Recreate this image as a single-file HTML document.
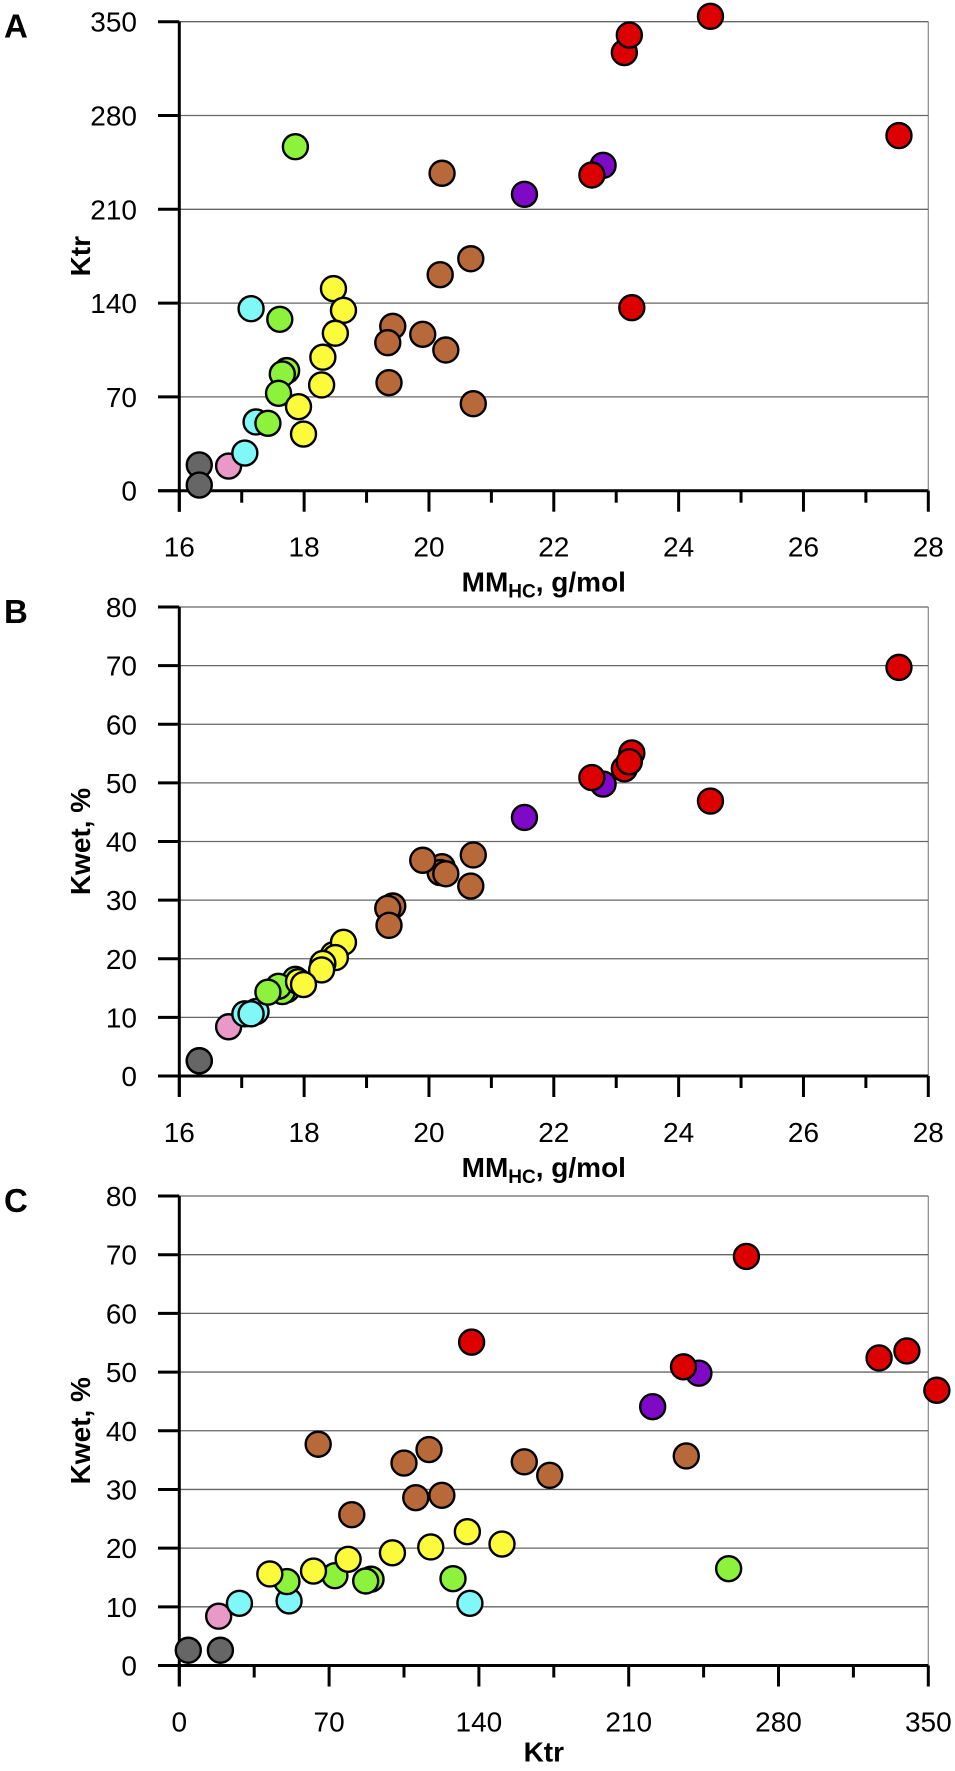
<!DOCTYPE html>
<html><head><meta charset="utf-8"><style>
body{margin:0;background:#fff;}
svg{display:block;font-family:"Liberation Sans",Arial,sans-serif;}
</style></head><body>
<svg id="fig" width="955" height="1771" viewBox="0 0 955 1771" xmlns="http://www.w3.org/2000/svg"></svg>
<script>
// sample data (one entry per sample)
const groups = ["gray","gray","pink","cyan","cyan","cyan","green","green","green","green","green","green","yellow","yellow","yellow","yellow","yellow","yellow","yellow","brown","brown","brown","brown","brown","brown","brown","brown","brown","purple","purple","red","red","red","red","red","red"];
const mmValues = [16.32,16.32,16.79,17.05,17.23,17.15,17.86,17.61,17.72,17.65,17.59,17.42,18.47,18.63,18.50,18.30,18.28,17.91,17.99,20.21,20.67,20.18,19.42,19.90,19.34,20.27,19.36,20.71,22.79,21.53,23.25,27.53,23.13,23.21,24.51,22.61];
const ktrValues = [19.2,4.2,18.4,28.1,51.3,135.8,256.7,127.9,89.6,87.1,72.7,50.3,150.8,134.6,117.5,99.6,78.9,62.7,42.3,236.9,173.1,161.2,122.7,116.7,110.5,105.0,80.6,64.9,242.8,221.2,136.6,265.0,327.0,340.0,354.0,235.6];
const kwetValues = [2.6,2.6,8.4,10.6,11.0,10.6,16.5,14.8,14.7,14.4,15.3,14.3,20.7,22.8,20.2,19.2,18.1,16.1,15.6,35.7,32.4,34.7,29.0,36.8,28.6,34.5,25.7,37.7,49.8,44.1,55.1,69.7,52.4,53.6,46.9,50.9];
const colorMap = {gray:"#666666",pink:"#e899c8",cyan:"#80f8f8",green:"#8cf23c",yellow:"#fbfb3c",brown:"#b8693a",purple:"#7e0ac8",red:"#dd0000"};
const mmTicks = [16,18,20,22,24,26,28];
const ktrTicks = [0,70,140,210,280,350];
const kwetTicks = [0,10,20,30,40,50,60,70,80];

const NS="http://www.w3.org/2000/svg";
const svg=document.getElementById('fig');
function el(tag,attrs,parent){const e=document.createElementNS(NS,tag);for(const k in attrs)e.setAttribute(k,attrs[k]);(parent||svg).appendChild(e);return e;}

const X0=179.3, X1=928.3;
const panels=[
 {key:"a",letter:"A",top:21.7,bottom:490.7,xv:mmValues,yv:ktrValues,xmin:16,xmax:28,xticks:mmTicks,xminor:1,ymin:0,ymax:350,yticks:ktrTicks,ytitle:"Ktr",xtitle:"mm"},
 {key:"b",letter:"B",top:607,bottom:1076,xv:mmValues,yv:kwetValues,xmin:16,xmax:28,xticks:mmTicks,xminor:1,ymin:0,ymax:80,yticks:kwetTicks,ytitle:"Kwet, %",xtitle:"mm"},
 {key:"c",letter:"C",top:1196,bottom:1665.5,xv:ktrValues,yv:kwetValues,xmin:0,xmax:350,xticks:ktrTicks,xminor:35,ymin:0,ymax:80,yticks:kwetTicks,ytitle:"Kwet, %",xtitle:"ktr"}
];

panels.forEach(p=>{
  const g=el('g',{});
  
  
  const sx=v=>X0+(v-p.xmin)/(p.xmax-p.xmin)*(X1-X0);
  const sy=v=>p.bottom-(v-p.ymin)/(p.ymax-p.ymin)*(p.bottom-p.top);
  const rb=el('line',{x1:X1,y1:p.top,x2:X1,y2:p.bottom,stroke:'#888','stroke-width':1.2},g);
  
  
  p.yticks.forEach(t=>{
    const y=sy(t);
    if(t!==p.ymin){
      const gl=el('line',{x1:X0,y1:y,x2:X1,y2:y,stroke:'#666','stroke-width':1.3},g);
      
      
    }
    const tk=el('line',{x1:158,y1:y,x2:X0,y2:y,stroke:'#000','stroke-width':3},g);
    
    
    const lb=el('text',{x:137,y:y+10,'text-anchor':'end','font-size':28,fill:'#000'},g);
    lb.textContent=t;
    
    
  });
  for(let v=p.xmin;v<=p.xmax+1e-9;v+=p.xminor){
    const major=p.xticks.some(t=>Math.abs(t-v)<1e-6);
    const x=sx(v);
    const tk=el('line',{x1:x,y1:p.bottom,x2:x,y2:p.bottom+(major?21:12),stroke:'#000','stroke-width':3},g);
    
    
  }
  p.xticks.forEach(t=>{
    const lb=el('text',{x:sx(t),y:p.bottom+66,'text-anchor':'middle','font-size':28,fill:'#000'},g);
    lb.textContent=t;
    
    
  });
  const xa=el('line',{x1:158,y1:p.bottom,x2:X1,y2:p.bottom,stroke:'#000','stroke-width':3},g);
  
  
  const ya=el('line',{x1:X0,y1:p.top,x2:X0,y2:p.bottom+21,stroke:'#000','stroke-width':3},g);
  
  
  for(let i=0;i<p.xv.length;i++){
    const c=el('circle',{cx:sx(p.xv[i]),cy:sy(p.yv[i]),r:12.5,fill:colorMap[groups[i]],stroke:'#000','stroke-width':2.4},g);
    
    
  }
  const L=el('text',{x:4,y:p.top+16,'font-size':33,'font-weight':'bold',fill:'#000'},g);
  L.textContent=p.letter;
  
  
  const cy=(p.top+p.bottom)/2;
  const yt=el('text',{x:0,y:0,transform:`translate(90,${cy}) rotate(-90)`,'text-anchor':'middle','font-size':28,'font-weight':'bold',fill:'#000'},g);
  yt.textContent=p.ytitle;
  
  
  const xt=el('text',{x:(X0+X1)/2-10,y:p.bottom+101,'text-anchor':'middle','font-size':28,'font-weight':'bold',fill:'#000'},g);
  if(p.xtitle==="mm"){
    xt.appendChild(document.createTextNode('MM'));
    const sub=el('tspan',{'font-size':19,dy:6},xt); sub.textContent='HC';
    const rest=el('tspan',{dy:-6},xt); rest.textContent=', g/mol';
  } else {
    xt.setAttribute('y',p.bottom+96);
    xt.textContent='Ktr';
  }
  
  
});
</script>
</body></html>
